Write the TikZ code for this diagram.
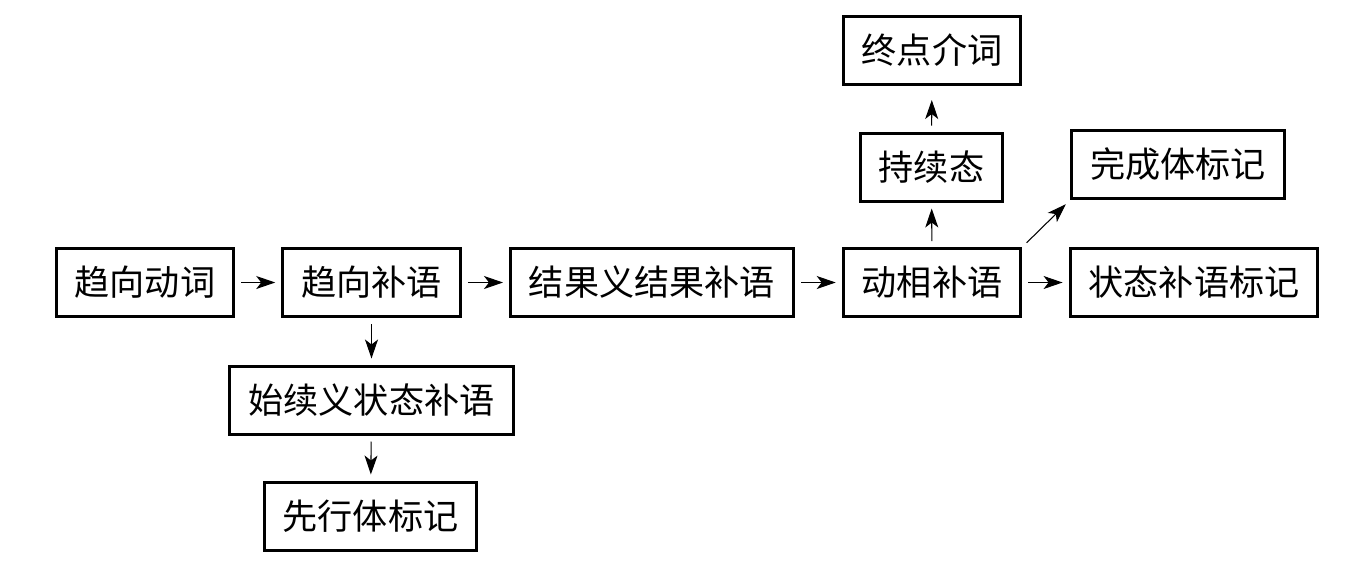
\documentclass[tikz,border=0pt]{standalone}
\usepackage{fontspec}
\newfontfamily\cjk{Noto Sans CJK SC}
\usetikzlibrary{arrows.meta}
\begin{document}
\begin{tikzpicture}[>={Stealth[length=0.38cm,width=0.26cm,inset=0.1cm]},
    box/.style={draw, rectangle, line width=1.7pt, inner xsep=0.37cm, inner ysep=0pt,
        minimum height=1.36cm, font=\cjk\fontsize{20}{24}\selectfont},
    link/.style={->, line width=0.6pt, shorten >=0.12cm, shorten <=0.12cm}]
\useasboundingbox (0,0) rectangle (26.9,-11.22);
        \node(A)[box] at (2.9,-5.65){趋向动词};
        \node(A1)[box] at (7.43,-5.65){趋向补语};
        \node(A2)[box] at (13.04,-5.65){结果义结果补语};
        \node(A3)[box] at (18.64,-5.65){动相补语};
        \node(A4)[box] at (23.88,-5.65){状态补语标记};
        \node(B1)[box] at (18.63,-3.34){持续态};
        \node(B2)[box] at (18.64,-1.01){终点介词};
        \node(B3)[box] at (23.56,-3.29){完成体标记};
        \node(C1)[box] at (7.43,-8.0){始续义状态补语};
        \node(C2)[box] at (7.41,-10.32){先行体标记};
\draw[link](A)--(A1);
\draw[link](A1)--(A2);
\draw[link](A2)--(A3);
\draw[link](A3)--(A4);
\draw[link](A3)--(B1);
\draw[link, shorten >=0.28cm](B1)--(B2);
\draw[link](A3.north east)--(B3.south west);
\draw[link](A1)--(C1);
\draw[link](C1)--(C2);
    \end{tikzpicture}
\end{document}
